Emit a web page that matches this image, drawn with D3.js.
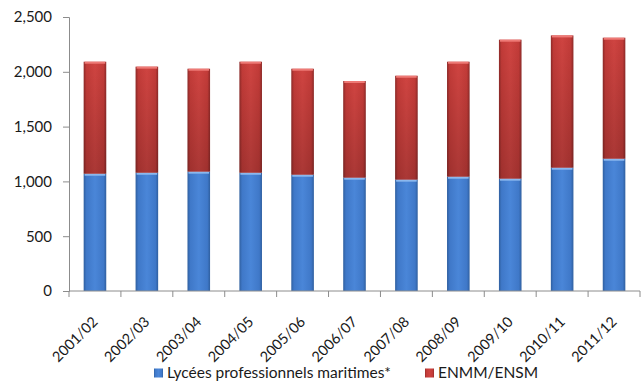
<!DOCTYPE html>
<html>
<head>
<meta charset="utf-8">
<script src="https://cdn.jsdelivr.net/npm/d3@7"></script>
<style>
  body { margin: 0; background: #fff; }
  svg text { font-family: Lato, "Open Sans", sans-serif; fill: #1a1a1a; }
  .axis path, .axis line { stroke: #8c8c8c; }
</style>
</head>
<body>
<svg id="chart" width="641" height="382"></svg>
<script>
// data
var years = ["2001/02", "2002/03", "2003/04", "2004/05", "2005/06", "2006/07",
             "2007/08", "2008/09", "2009/10", "2010/11", "2011/12"]
var lycees = [1070, 1079, 1089, 1079, 1061, 1034, 1016, 1043, 1025, 1125, 1207]
var enmm = [1022, 968, 939, 1013, 967, 882, 948, 1049, 1268, 1207, 1104]
var yTicks = [0, 500, 1000, 1500, 2000, 2500]
var seriesNames = ["Lycées professionnels maritimes*", "ENMM/ENSM"]

var svg = d3.select("#chart")
var margin = { left: 69, top: 17, right: 1, bottom: 91 }
var width = 641 - margin.left - margin.right,
    height = 382 - margin.top - margin.bottom

// gradients for the glossy bar look
var defs = svg.append("defs")
function barGradient(id, edge, mid, light) {
    var g = defs.append("linearGradient").attr("id", id)
        .attr("x1", 0).attr("x2", 1).attr("y1", 0).attr("y2", 0)
    g.append("stop").attr("offset", "0%").attr("stop-color", edge)
    g.append("stop").attr("offset", "12%").attr("stop-color", mid)
    g.append("stop").attr("offset", "50%").attr("stop-color", light)
    g.append("stop").attr("offset", "88%").attr("stop-color", mid)
    g.append("stop").attr("offset", "100%").attr("stop-color", edge)
}
barGradient("gBlue", "#2f5f9f", "#3f78c8", "#4a86d8")
barGradient("gRed", "#8e2a28", "#c23b38", "#cf4441")
var shade = defs.append("linearGradient").attr("id", "gShade")
    .attr("x1", 0).attr("x2", 0).attr("y1", 0).attr("y2", 1)
shade.append("stop").attr("offset", "0%").attr("stop-color", "#000").attr("stop-opacity", 0)
shade.append("stop").attr("offset", "100%").attr("stop-color", "#000").attr("stop-opacity", 0.18)

var g = svg.append("g").attr("transform", "translate(" + margin.left + "," + margin.top + ")")

var x = d3.scaleBand().domain(years).range([0, width]).paddingInner(0.565).paddingOuter(0.2825)
var y = d3.scaleLinear().domain([0, 2500]).range([height, 0])

var rows = years.map(function(d, i) { return { year: d, a: lycees[i], b: enmm[i] } })

// blue segments
var blue = g.append("g").selectAll("g").data(rows).join("g")
blue.append("rect")
    .attr("x", function(d) { return x(d.year) })
    .attr("y", function(d) { return y(d.a) })
    .attr("width", x.bandwidth())
    .attr("height", function(d) { return y(0) - y(d.a) })
    .attr("fill", "url(#gBlue)")
blue.append("rect")
    .attr("x", function(d) { return x(d.year) + 1 })
    .attr("y", function(d) { return y(d.a) })
    .attr("width", x.bandwidth() - 2)
    .attr("height", 2)
    .attr("fill", "#8bb8ee")

// red segments
var red = g.append("g").selectAll("g").data(rows).join("g")
red.append("rect")
    .attr("x", function(d) { return x(d.year) })
    .attr("y", function(d) { return y(d.a + d.b) })
    .attr("width", x.bandwidth())
    .attr("height", function(d) { return y(d.a) - y(d.a + d.b) })
    .attr("fill", "url(#gRed)")
red.append("rect")
    .attr("x", function(d) { return x(d.year) })
    .attr("y", function(d) { return y(d.a + d.b) })
    .attr("width", x.bandwidth())
    .attr("height", function(d) { return y(d.a) - y(d.a + d.b) })
    .attr("fill", "url(#gShade)")
red.append("rect")
    .attr("x", function(d) { return x(d.year) + 1 })
    .attr("y", function(d) { return y(d.a + d.b) })
    .attr("width", x.bandwidth() - 2)
    .attr("height", 2)
    .attr("fill", "#ee7a76")

// y axis
var yAxis = g.append("g").attr("class", "axis")
    .call(d3.axisLeft(y).tickValues(yTicks).tickFormat(d3.format(",")).tickSize(6).tickPadding(11))
yAxis.selectAll("text").style("font-size", "15px")

// x axis, ticks between the bands
var xAxis = g.append("g").attr("class", "axis")
    .attr("transform", "translate(0," + height + ")")
xAxis.append("line").attr("x1", 0).attr("x2", width).attr("y1", 0).attr("y2", 0)
xAxis.selectAll(".tk").data(d3.range(years.length + 1)).join("line")
    .attr("class", "tk")
    .attr("x1", function(i) { return i * x.step() })
    .attr("x2", function(i) { return i * x.step() })
    .attr("y1", 0).attr("y2", 6)
xAxis.selectAll(".lbl").data(years).join("text")
    .attr("class", "lbl")
    .attr("text-anchor", "end")
    .attr("transform", function(d) {
        return "translate(" + (x(d) + x.bandwidth() / 2 - 4) + ",24) rotate(-45)"
    })
    .attr("dy", "0.75em")
    .style("font-size", "14.5px")
    .text(function(d) { return d })

// legend
var legend = svg.append("g").attr("transform", "translate(0,373)")
var items = [
    { name: seriesNames[0], fill: "url(#gBlue)", x: 154 },
    { name: seriesNames[1], fill: "url(#gRed)", x: 425 }
]
var li = legend.selectAll("g").data(items).join("g")
    .attr("transform", function(d) { return "translate(" + d.x + ",0)" })
li.append("rect").attr("x", 0).attr("y", -4.5).attr("width", 9).attr("height", 9)
    .attr("fill", function(d) { return d.fill })
li.append("text").attr("x", 13).attr("y", 0).attr("dy", "0.35em")
    .style("font-size", "15.5px")
    .text(function(d) { return d.name })
</script>
</body>
</html>
